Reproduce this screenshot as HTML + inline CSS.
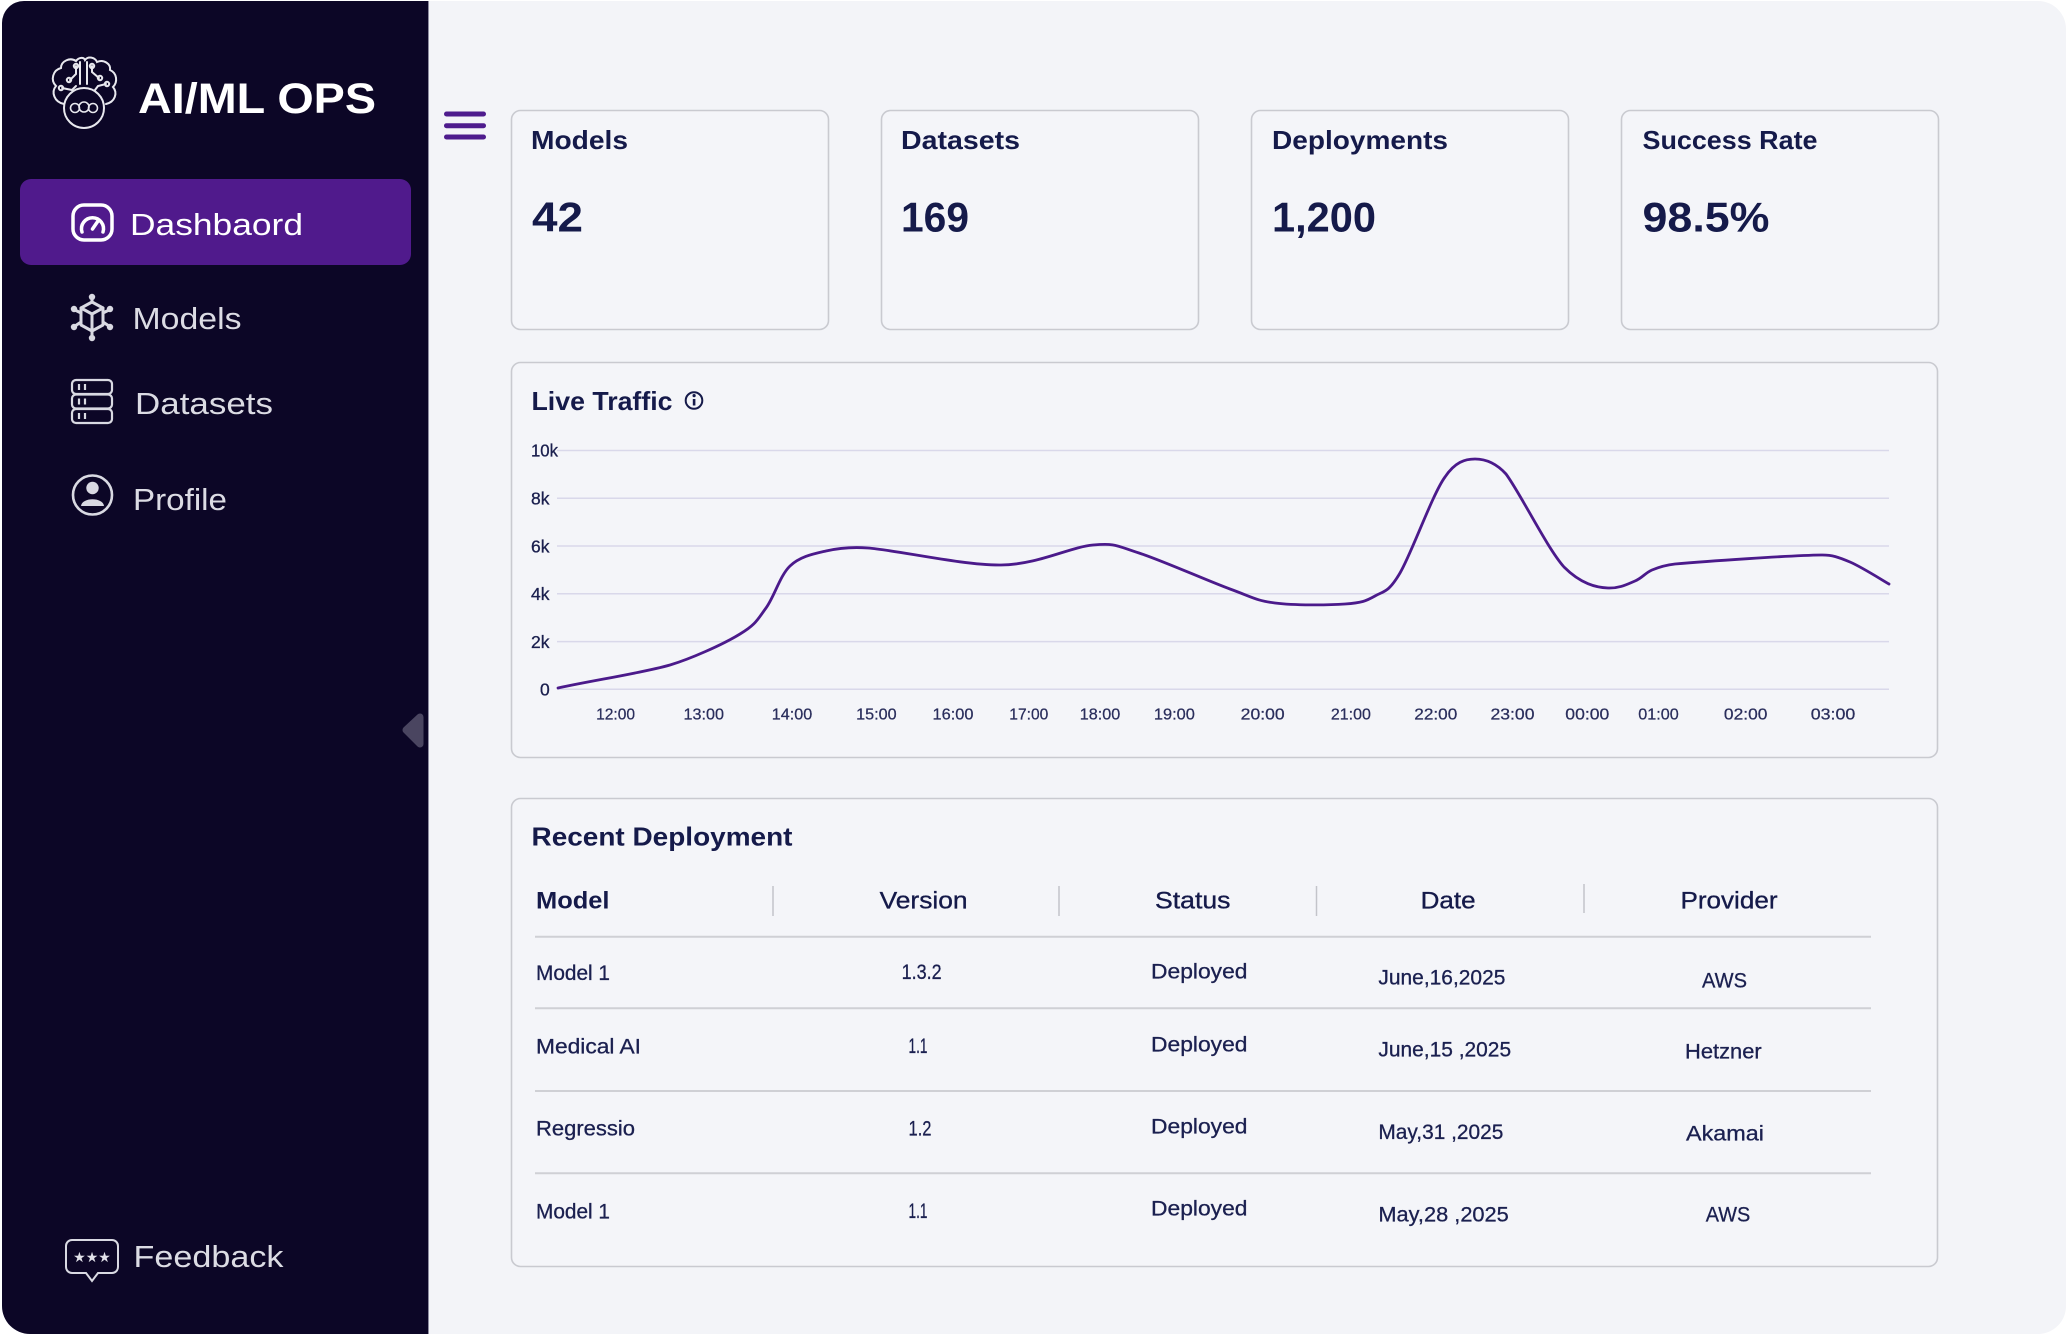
<!DOCTYPE html>
<html>
<head>
<meta charset="utf-8">
<style>
html,body{margin:0;padding:0;background:#fff;}
svg{display:block;}
text{font-family:"Liberation Sans","DejaVu Sans",sans-serif;}
</style>
</head>
<body>
<svg width="2068" height="1335" viewBox="0 0 2068 1335" xmlns="http://www.w3.org/2000/svg">
  <rect x="0" y="0" width="2068" height="1335" fill="#ffffff"/>
  <rect x="2" y="1" width="2064" height="1333" rx="28" fill="#f3f4f8"/>

  <!-- Sidebar -->
  <path d="M24,1 H428 V1334 H30 A28,28 0 0 1 2,1306 V23 A22,22 0 0 1 24,1 Z" fill="#0c0626"/>
  <line x1="428.5" y1="1" x2="428.5" y2="1334" stroke="#8e8ca0" stroke-width="1"/>

  <!-- Brain logo -->
  <g fill="none" stroke="#e8e8ee" stroke-width="2" stroke-linecap="round">
    <path d="M64,104 C54,102 51,92 56,86 C50,80 53,70 61,68 C61,61 70,57 76,61 C79,57 84,57 85,60 C88,56 95,57 97,62 C104,59 111,64 110,70 C117,73 118,82 113,87 C118,93 115,102 106,104"/>
    <circle cx="84" cy="108" r="20"/>
    <path d="M80,62 V84 M87,62 V84"/>
    <path d="M76,66 V74 L70,80 M92,66 V72 L99,78"/>
    <path d="M62,88 L72,90 L76,86 M106,84 L98,86 L95,90"/>
    <circle cx="69" cy="80" r="2.2"/>
    <circle cx="100" cy="78" r="2.2"/>
    <circle cx="61" cy="88" r="2.2"/>
    <circle cx="107" cy="84" r="2.2"/>
    <circle cx="76" cy="66" r="2.2"/>
    <circle cx="92" cy="66" r="2.2"/>
    <circle cx="75" cy="108" r="4.5" stroke-width="1.6"/>
    <circle cx="84" cy="107" r="5" stroke-width="1.6"/>
    <circle cx="93" cy="108" r="4.5" stroke-width="1.6"/>
  </g>
  <text x="138" y="113" font-size="43" font-weight="bold" fill="#ffffff" textLength="238" lengthAdjust="spacingAndGlyphs">AI/ML OPS</text>

  <!-- Active Dashboard -->
  <rect x="20" y="179" width="391" height="86" rx="11" fill="#501a8c"/>
  <g fill="none" stroke="#ffffff" stroke-width="3.5" stroke-linecap="round">
    <rect x="73" y="205" width="39" height="35" rx="11"/>
    <path d="M82,232 A11,11 0 1 1 103,232"/>
    <path d="M92.5,229 L98,221"/>
  </g>
  <text x="130" y="235" font-size="31" fill="#ffffff" textLength="173" lengthAdjust="spacingAndGlyphs">Dashbaord</text>

  <!-- Models nav -->
  <g fill="none" stroke="#d9d9e2" stroke-width="3" stroke-linecap="round" stroke-linejoin="round">
    <path d="M81,308 L92,302 L103,308 L103,325 L92,331 L81,325 Z"/>
    <path d="M81,308 L92,314 L103,308 M92,314 V331"/>
    <path d="M92,302 V298 M81,313 L75,310 M103,313 L109,310 M81,322 L75,326 M103,322 L109,326 M92,331 V337"/>
  </g>
  <g fill="#d9d9e2">
    <circle cx="92" cy="297" r="3.2"/>
    <circle cx="74" cy="309" r="3.2"/>
    <circle cx="110" cy="309" r="3.2"/>
    <circle cx="74" cy="327" r="3.2"/>
    <circle cx="110" cy="327" r="3.2"/>
    <circle cx="92" cy="338" r="3.2"/>
  </g>
  <text x="132.5" y="329" font-size="30.5" fill="#dcdce4" textLength="109" lengthAdjust="spacingAndGlyphs">Models</text>

  <!-- Datasets nav -->
  <g fill="none" stroke="#d9d9e2" stroke-width="2.2">
    <rect x="72" y="380" width="40" height="14" rx="4"/>
    <rect x="72" y="394.5" width="40" height="14" rx="4"/>
    <rect x="72" y="409" width="40" height="14" rx="4"/>
    <path d="M79,384 V390 M85,384 V390 M79,398.5 V404.5 M85,398.5 V404.5 M79,413 V419 M85,413 V419"/>
  </g>
  <text x="135" y="414" font-size="30.5" fill="#dcdce4" textLength="138" lengthAdjust="spacingAndGlyphs">Datasets</text>

  <!-- Profile nav -->
  <circle cx="92.5" cy="495" r="19.5" fill="none" stroke="#d9d9e2" stroke-width="2.6"/>
  <circle cx="92.5" cy="488" r="6.2" fill="#d9d9e2"/>
  <path d="M81,506 C82,497 103,497 104,506 Z" fill="#d9d9e2"/>
  <text x="133" y="510" font-size="30.5" fill="#dcdce4" textLength="94" lengthAdjust="spacingAndGlyphs">Profile</text>

  <!-- Feedback -->
  <path d="M72,1240 H112 A6,6 0 0 1 118,1246 V1267 A6,6 0 0 1 112,1273 H98 L92,1281 L86,1273 H72 A6,6 0 0 1 66,1267 V1246 A6,6 0 0 1 72,1240 Z" fill="none" stroke="#d9d9e2" stroke-width="2"/>
  <text x="92" y="1262" font-size="14" fill="#e2e2ea" text-anchor="middle" font-family="DejaVu Sans">★★★</text>
  <text x="133.5" y="1267" font-size="31" fill="#dcdce4" textLength="150" lengthAdjust="spacingAndGlyphs">Feedback</text>

  <!-- collapse handle -->
  <path d="M406,730 L420,717 L420,744 Z" fill="#4a4560" stroke="#4a4560" stroke-width="7" stroke-linejoin="round"/>

  <!-- Hamburger -->
  <g fill="#4e1c8d">
    <rect x="444" y="111.5" width="42" height="5" rx="2.5"/>
    <rect x="444" y="123.2" width="42" height="5" rx="2.5"/>
    <rect x="444" y="134.5" width="42" height="5" rx="2.5"/>
  </g>

  <!-- Stat cards -->
  <g fill="#f4f5f9" stroke="#c9cad0" stroke-width="1.6">
    <rect x="511.5" y="110.5" width="317" height="219" rx="9"/>
    <rect x="881.5" y="110.5" width="317" height="219" rx="9"/>
    <rect x="1251.5" y="110.5" width="317" height="219" rx="9"/>
    <rect x="1621.5" y="110.5" width="317" height="219" rx="9"/>
  </g>
  <g fill="#151a4a" font-weight="bold">
    <text x="531" y="149" font-size="26" textLength="97" lengthAdjust="spacingAndGlyphs">Models</text>
    <text x="901" y="149" font-size="26" textLength="119" lengthAdjust="spacingAndGlyphs">Datasets</text>
    <text x="1272" y="149" font-size="26" textLength="176" lengthAdjust="spacingAndGlyphs">Deployments</text>
    <text x="1642.5" y="149" font-size="26" textLength="175" lengthAdjust="spacingAndGlyphs">Success Rate</text>
    <text x="532" y="231.5" font-size="42" textLength="51" lengthAdjust="spacingAndGlyphs">42</text>
    <text x="901" y="231.5" font-size="42" textLength="68" lengthAdjust="spacingAndGlyphs">169</text>
    <text x="1272" y="231.5" font-size="42" textLength="104" lengthAdjust="spacingAndGlyphs">1,200</text>
    <text x="1642.5" y="231.5" font-size="42" textLength="127" lengthAdjust="spacingAndGlyphs">98.5%</text>
  </g>

  <!-- Live traffic card -->
  <rect x="511.5" y="362.5" width="1426" height="395" rx="9" fill="#f4f5f9" stroke="#c9cad0" stroke-width="1.6"/>
  <text x="531.5" y="410" font-size="26" font-weight="bold" fill="#151a4a" textLength="141" lengthAdjust="spacingAndGlyphs">Live Traffic</text>
  <circle cx="694" cy="400.5" r="8.3" fill="none" stroke="#151a4a" stroke-width="2"/>
  <rect x="692.8" y="399" width="2.6" height="6.5" fill="#151a4a"/>
  <circle cx="694.1" cy="395.6" r="1.6" fill="#151a4a"/>

  <!-- grid -->
  <g stroke="#d9d8ea" stroke-width="1.5">
    <line x1="557" y1="450.5" x2="1889" y2="450.5"/>
    <line x1="557" y1="498.3" x2="1889" y2="498.3"/>
    <line x1="557" y1="546" x2="1889" y2="546"/>
    <line x1="557" y1="593.8" x2="1889" y2="593.8"/>
    <line x1="557" y1="641.6" x2="1889" y2="641.6"/>
    <line x1="557" y1="689.3" x2="1889" y2="689.3"/>
  </g>
  <g fill="#1a1f4e" font-size="17.5" stroke="#1a1f4e" stroke-width="0.3">
    <text x="531" y="456.7" textLength="27" lengthAdjust="spacingAndGlyphs">10k</text>
    <text x="531" y="504.5">8k</text>
    <text x="531" y="552.3">6k</text>
    <text x="531" y="600">4k</text>
    <text x="531" y="647.8">2k</text>
    <text x="540" y="695.5">0</text>
  </g>
  <g fill="#2a2e5c" font-size="15.5" text-anchor="middle" stroke="#2a2e5c" stroke-width="0.25">
    <text x="615.6" y="719.5" textLength="39" lengthAdjust="spacingAndGlyphs">12:00</text>
    <text x="703.8" y="719.5" textLength="40.5" lengthAdjust="spacingAndGlyphs">13:00</text>
    <text x="792" y="719.5" textLength="40.5" lengthAdjust="spacingAndGlyphs">14:00</text>
    <text x="876.4" y="719.5" textLength="40.5" lengthAdjust="spacingAndGlyphs">15:00</text>
    <text x="953" y="719.5" textLength="41" lengthAdjust="spacingAndGlyphs">16:00</text>
    <text x="1028.8" y="719.5" textLength="39" lengthAdjust="spacingAndGlyphs">17:00</text>
    <text x="1100" y="719.5" textLength="40.5" lengthAdjust="spacingAndGlyphs">18:00</text>
    <text x="1174.4" y="719.5" textLength="41" lengthAdjust="spacingAndGlyphs">19:00</text>
    <text x="1262.7" y="719.5" textLength="44" lengthAdjust="spacingAndGlyphs">20:00</text>
    <text x="1350.9" y="719.5" textLength="40" lengthAdjust="spacingAndGlyphs">21:00</text>
    <text x="1435.8" y="719.5" textLength="43" lengthAdjust="spacingAndGlyphs">22:00</text>
    <text x="1512.5" y="719.5" textLength="44" lengthAdjust="spacingAndGlyphs">23:00</text>
    <text x="1587.3" y="719.5" textLength="44" lengthAdjust="spacingAndGlyphs">00:00</text>
    <text x="1658.5" y="719.5" textLength="40.5" lengthAdjust="spacingAndGlyphs">01:00</text>
    <text x="1745.7" y="719.5" textLength="43.5" lengthAdjust="spacingAndGlyphs">02:00</text>
    <text x="1833" y="719.5" textLength="44.5" lengthAdjust="spacingAndGlyphs">03:00</text>
  </g>

  <!-- series -->
  <path fill="none" stroke="#4b1a8b" stroke-width="2.8" stroke-linejoin="round" stroke-linecap="round"
    d="M558,688
       C595,680 642,673 670,665
       C690,659 722,645 740,634
       C756,624.5 757.7,619.3 766,608
       C774.3,596.7 780,575.5 790,566
       C800,556.5 813,554 826,551
       C839,548 855,547 868,548
       C897.2,550.3 963.5,565.5 1001,565
       C1038.5,564.5 1070,547 1093,545
       C1116,543 1116.2,545.7 1139,553
       C1161.8,560.3 1207.3,580.7 1230,589
       C1252.7,597.3 1255.8,600.5 1275,603
       C1294.2,605.5 1328.3,605.2 1345,604
       C1361.7,602.8 1365.8,601.2 1375,596
       C1384.2,590.8 1388.3,592.8 1400,573
       C1411.7,553.2 1432.5,494 1445,477
       C1455,462 1465,459 1475,459
       C1485,459 1496,463 1506,474
       C1520.8,494 1547,548 1564,567
       C1581,584 1596.2,587.5 1608,588
       C1619.8,588.5 1627.7,584 1635,581
       C1642.3,578 1645.3,572.8 1652,570
       C1658.7,567.2 1666,565 1675,564
       C1703.2,561.5 1791.8,555.3 1821,555
       C1832,554.7 1838.7,557.2 1850,562
       C1861.3,566.8 1882.5,580.3 1889,584"/>

  <!-- Recent deployment card -->
  <rect x="511.5" y="798.5" width="1426" height="468" rx="9" fill="#f4f5f9" stroke="#c9cad0" stroke-width="1.6"/>
  <text x="531.5" y="845.7" font-size="26" font-weight="bold" fill="#151a4a" textLength="261" lengthAdjust="spacingAndGlyphs">Recent Deployment</text>

  <!-- header -->
  <text x="536" y="908.3" font-size="24.5" font-weight="bold" fill="#151a4a" textLength="73.5" lengthAdjust="spacingAndGlyphs">Model</text>
  <g font-size="24.5" fill="#151a4a" stroke="#151a4a" stroke-width="0.35">
    <text x="879.6" y="908.3" textLength="88" lengthAdjust="spacingAndGlyphs">Version</text>
    <text x="1155" y="908.3" textLength="75.5" lengthAdjust="spacingAndGlyphs">Status</text>
    <text x="1420.6" y="908.3" textLength="55" lengthAdjust="spacingAndGlyphs">Date</text>
    <text x="1680.5" y="908.3" textLength="97" lengthAdjust="spacingAndGlyphs">Provider</text>
  </g>
  <g stroke="#c3c4ca" stroke-width="1.5">
    <line x1="773" y1="886" x2="773" y2="916"/>
    <line x1="1059" y1="886" x2="1059" y2="916"/>
    <line x1="1316.5" y1="886" x2="1316.5" y2="916"/>
    <line x1="1584" y1="884" x2="1584" y2="913"/>
  </g>
  <g stroke="#cfd0d5" stroke-width="2">
    <line x1="535" y1="936.7" x2="1871" y2="936.7"/>
    <line x1="535" y1="1008.3" x2="1871" y2="1008.3"/>
    <line x1="535" y1="1091" x2="1871" y2="1091"/>
    <line x1="535" y1="1173.3" x2="1871" y2="1173.3"/>
  </g>

  <!-- rows -->
  <g font-size="21" fill="#1b2050" stroke="#1b2050" stroke-width="0.3">
    <text x="536" y="980" textLength="74" lengthAdjust="spacingAndGlyphs">Model 1</text>
    <text x="901.6" y="979" textLength="40" lengthAdjust="spacingAndGlyphs">1.3.2</text>
    <text x="1151" y="978.3" textLength="96.5" lengthAdjust="spacingAndGlyphs">Deployed</text>
    <text x="1378.4" y="984.3" textLength="127" lengthAdjust="spacingAndGlyphs">June,16,2025</text>
    <text x="1702" y="987.7" textLength="45" lengthAdjust="spacingAndGlyphs">AWS</text>

    <text x="536" y="1053.3" textLength="105" lengthAdjust="spacingAndGlyphs">Medical AI</text>
    <text x="908.5" y="1053" textLength="19" lengthAdjust="spacingAndGlyphs">1.1</text>
    <text x="1151" y="1051.7" textLength="96.5" lengthAdjust="spacingAndGlyphs">Deployed</text>
    <text x="1378.4" y="1056.7" textLength="132.7" lengthAdjust="spacingAndGlyphs">June,15 ,2025</text>
    <text x="1685" y="1058.3" textLength="76.7" lengthAdjust="spacingAndGlyphs">Hetzner</text>

    <text x="536" y="1135.7" textLength="99" lengthAdjust="spacingAndGlyphs">Regressio</text>
    <text x="908.5" y="1135.3" textLength="23" lengthAdjust="spacingAndGlyphs">1.2</text>
    <text x="1151" y="1133.3" textLength="96.5" lengthAdjust="spacingAndGlyphs">Deployed</text>
    <text x="1378.4" y="1139" textLength="125" lengthAdjust="spacingAndGlyphs">May,31 ,2025</text>
    <text x="1686" y="1140.7" textLength="78" lengthAdjust="spacingAndGlyphs">Akamai</text>

    <text x="536" y="1218.3" textLength="74" lengthAdjust="spacingAndGlyphs">Model 1</text>
    <text x="908.5" y="1218" textLength="19" lengthAdjust="spacingAndGlyphs">1.1</text>
    <text x="1151" y="1215.7" textLength="96.5" lengthAdjust="spacingAndGlyphs">Deployed</text>
    <text x="1378.4" y="1221.7" textLength="130.4" lengthAdjust="spacingAndGlyphs">May,28 ,2025</text>
    <text x="1705.8" y="1221.7" textLength="44.5" lengthAdjust="spacingAndGlyphs">AWS</text>
  </g>
</svg>
</body>
</html>
